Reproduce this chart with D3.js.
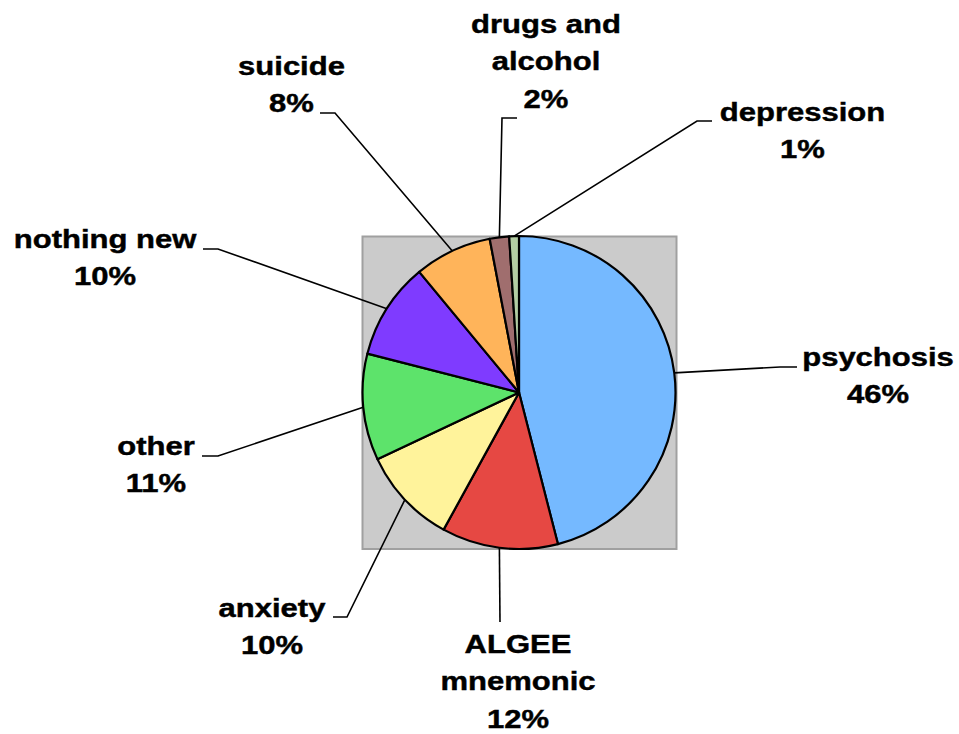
<!DOCTYPE html>
<html>
<head>
<meta charset="utf-8">
<script src="https://cdn.jsdelivr.net/npm/d3@7"></script>
<style>
  html, body { margin: 0; padding: 0; background: #fff; }
  svg { display: block; }
  .lbl { font-family: "Liberation Sans", Arial, Helvetica, sans-serif; font-weight: bold; font-size: 26.5px; fill: #000; stroke: #000; stroke-width: 0.45px; }
</style>
</head>
<body>
<svg id="chart" width="959" height="734"></svg>
<script>
// Topics, in clockwise order from 12 o'clock
const categories = ["psychosis", "ALGEE\nmnemonic", "anxiety", "other", "nothing new", "suicide", "drugs and\nalcohol", "depression"];
const values = [46, 12, 10, 11, 10, 8, 2, 1];
const colors = ["#75B9FF", "#E64843", "#FFF39B", "#5DE36B", "#7F3BFF", "#FFB45A", "#A06E6E", "#B3CDA3"];

// Label placement: text anchor (first baseline) and the elbow of each leader line
const labelLayout = [
  { x: 878,   y: 366, elbow: [[797, 367], [780, 367]] },
  { x: 518,   y: 653, elbow: [[500, 622]] },
  { x: 272,   y: 617, elbow: [[333, 617], [347, 617]] },
  { x: 156,   y: 455, elbow: [[202, 456], [218, 456]] },
  { x: 105,   y: 248, elbow: [[203, 249], [218, 249]] },
  { x: 291.5, y: 75,  elbow: [[320, 113], [335, 113]] },
  { x: 546,   y: 33,  elbow: [[517, 118], [502, 118]] },
  { x: 802.5, y: 121, elbow: [[712, 121], [697, 121]] }
];

const svg = d3.select("#chart");
const cx = 519, cy = 392.5, r = 156.5;
const lineGap = 37.5;

// Plot area
svg.append("rect")
  .attr("x", 362.5).attr("y", 236.5)
  .attr("width", 314).attr("height", 312.5)
  .attr("fill", "#CBCBCB")
  .attr("stroke", "#A0A0A0")
  .attr("stroke-width", 2);

const data = categories.map((c, i) => ({ name: c, value: values[i], color: colors[i], layout: labelLayout[i] }));

const pie = d3.pie().value(d => d.value).sort(null);
const arcs = pie(data);
const arc = d3.arc().innerRadius(0).outerRadius(r);

const g = svg.append("g").attr("transform", `translate(${cx},${cy})`);

g.selectAll("path.slice")
  .data(arcs)
  .join("path")
  .attr("class", "slice")
  .attr("d", arc)
  .attr("fill", d => d.data.color)
  .attr("stroke", "#000")
  .attr("stroke-width", 2.2)
  .attr("stroke-linejoin", "round");

// Leader lines: label elbow -> edge of slice at its mid-angle
const line = d3.line();
svg.selectAll("path.leader")
  .data(arcs)
  .join("path")
  .attr("class", "leader")
  .attr("fill", "none")
  .attr("stroke", "#000")
  .attr("stroke-width", 1.6)
  .attr("d", d => {
    const a = (d.startAngle + d.endAngle) / 2;
    const edge = [cx + r * Math.sin(a), cy - r * Math.cos(a)];
    return line([...d.data.layout.elbow, edge]);
  });

// Labels: name lines plus percentage
const labels = svg.selectAll("g.label")
  .data(arcs)
  .join("g")
  .attr("class", "label")
  .attr("transform", d => `translate(${d.data.layout.x},${d.data.layout.y}) scale(1.17,1)`);

labels.append("text")
  .attr("class", "lbl")
  .attr("text-anchor", "middle")
  .each(function(d) {
    const lines = d.data.name.split("\n").concat([d.data.value + "%"]);
    const t = d3.select(this);
    lines.forEach((s, i) => {
      t.append("tspan").attr("x", 0).attr("y", i * lineGap).text(s);
    });
  });
</script>
</body>
</html>
